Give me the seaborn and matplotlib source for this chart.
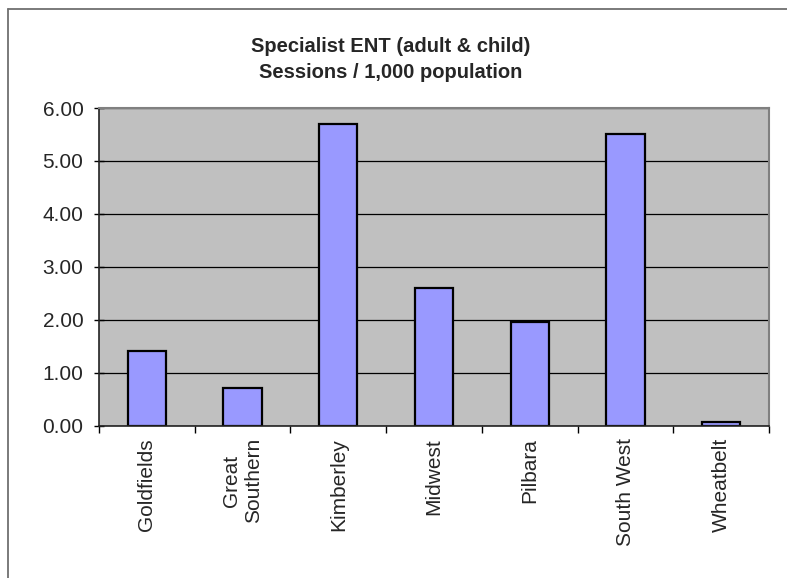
import matplotlib
matplotlib.use("Agg")
import matplotlib.pyplot as plt
from matplotlib.lines import Line2D
from matplotlib.ticker import MultipleLocator, FixedLocator, FormatStrFormatter
import seaborn as sns
import pandas as pd

regions = ["Goldfields", "Great\nSouthern", "Kimberley", "Midwest",
           "Pilbara", "South West", "Wheatbelt"]
sessions_per_1000 = [1.40, 0.70, 5.70, 2.60, 1.95, 5.50, 0.06]

title_lines = ["Specialist ENT (adult & child)", "Sessions / 1,000 population"]

df = pd.DataFrame({"region": regions, "sessions": sessions_per_1000})

sns.set_theme(style="white")
plt.rcParams["font.family"] = ["Liberation Sans", "DejaVu Sans"]

fig = plt.figure(figsize=(7.87, 5.78), dpi=100)
ax = fig.add_axes([99 / 787, 1 - 425.5 / 578, 670 / 787, 317.5 / 578])
ax.set_facecolor("#C0C0C0")

sns.barplot(data=df, x="region", y="sessions", color="#9999FF",
            edgecolor="black", linewidth=1.6, width=0.4, saturation=1,
            ax=ax, zorder=3)

ax.set_ylim(0, 6)
ax.set_xlim(-0.5, len(regions) - 0.5)
ax.yaxis.set_major_locator(MultipleLocator(1))
ax.yaxis.set_major_formatter(FormatStrFormatter("%.2f"))
ax.grid(axis="y", color="black", linewidth=0.9, zorder=1)
ax.set_axisbelow(True)

# category labels centred, tick marks on the category boundaries
ax.set_xticks(range(len(regions)))
ax.set_xticklabels(regions, rotation=90, ha="center", va="top",
                   multialignment="center", fontsize=15)
ax.tick_params(axis="x", which="major", length=0, pad=9)
ax.xaxis.set_minor_locator(FixedLocator([i - 0.5 for i in range(len(regions) + 1)]))
ax.tick_params(axis="x", which="minor", bottom=True, length=5, width=1,
               color="black", direction="out")
ax.tick_params(axis="y", which="major", left=True, length=6.5, width=1,
               color="black", direction="inout", pad=8, labelsize=15)

ax.set_xlabel("")
ax.set_ylabel("")

for side in ["left", "bottom"]:
    ax.spines[side].set_color("#222222")
    ax.spines[side].set_linewidth(1.2)
for side in ["top", "right"]:
    ax.spines[side].set_color("#808080")
    ax.spines[side].set_linewidth(1.5)
ax.spines["bottom"].set_zorder(4)

fig.text(391 / 787, 1 - 46 / 578, title_lines[0], ha="center", va="center",
         fontsize=14.5, fontweight="bold")
fig.text(391 / 787, 1 - 73 / 578, title_lines[1], ha="center", va="center",
         fontsize=14.5, fontweight="bold")

# chart area frame
fig.add_artist(Line2D([7.5 / 787, 7.5 / 787], [1 - 8.5 / 578, 0], transform=fig.transFigure,
                      color="#707070", linewidth=1.3))
fig.add_artist(Line2D([7.5 / 787, 1], [1 - 8.5 / 578, 1 - 8.5 / 578], transform=fig.transFigure,
                      color="#707070", linewidth=1.3))

fig.savefig("out.png", dpi=100)
